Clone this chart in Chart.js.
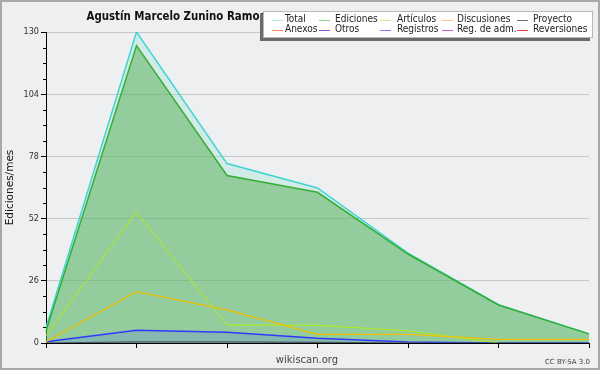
<!DOCTYPE html>
<html><head><meta charset="utf-8">
<script src="https://cdn.jsdelivr.net/npm/chart.js@4/dist/chart.umd.min.js"></script>
<style>
html,body{margin:0;padding:0;background:#fff;}
#wrap{position:relative;width:600px;height:370px;}
canvas{display:block;}
</style></head>
<body><div id="wrap"><canvas id="c" width="600" height="370"></canvas></div>
<script>
const categories = ['1','2','3','4','5','6','7'];
const total       = [6.5, 130, 75, 64.8, 37.6, 16, 3.8];
const ediciones   = [5, 124.3, 70, 63, 37.2, 15.9, 3.8];
const articulos   = [3, 54.8, 7.5, 7.4, 5.1, 0, null];
const discusiones = [0.5, 21.5, 13.8, 3.6, 3.6, 1.5, 1.5];
const proyecto    = [0, 0.5, 0.5, 0.3, 0, 0, 0];
const registros   = [0.5, 5.3, 4.5, 2, 0.4, 0, 0];
const anexos      = [null, null, null, null, null, null, null];
const otros       = [null, null, null, null, null, null, null];
const regAdm      = [null, null, null, null, null, null, null];
const reversiones = [null, null, null, null, null, null, null];
const yTicks = [0, 26, 52, 78, 104, 130];
const yMinorStep = 6.5;

const BG = '#eeeff0';
const FONT = '"DejaVu Sans Condensed","DejaVu Sans",sans-serif';

const series = [
  {label:'Total', data:total, line:'#3fd6d2', fill:'rgba(90,215,195,0.18)', legend:'#a6e8e4', order:10, width:1.5},
  {label:'Ediciones', data:ediciones, line:'#35ad35', fill:'rgba(84,176,84,0.5)', legend:'#8ccf8c', order:9, width:1.5},
  {label:'Artículos', data:articulos, line:'#b0ee10', fill:false, legend:'#d0ee70', order:5, width:1},
  {label:'Discusiones', data:discusiones, line:'#f0c000', fill:false, legend:'#ffd070', order:4, width:1.3},
  {label:'Proyecto', data:proyecto, line:'#4a5560', fill:false, legend:'#707070', order:3, width:1.2},
  {label:'Anexos', data:anexos, line:'#ff8040', fill:false, legend:'#ff8a50', order:2, width:1},
  {label:'Otros', data:otros, line:'#8040e0', fill:false, legend:'#9050e0', order:2, width:1},
  {label:'Registros', data:registros, line:'#3038ff', fill:'rgba(70,90,255,0.18)', legend:'#7878ff', order:8, width:1.5},
  {label:'Reg. de adm.', data:regAdm, line:'#e040e0', fill:false, legend:'#e050e0', order:2, width:1},
  {label:'Reversiones', data:reversiones, line:'#f03030', fill:false, legend:'#f04040', order:2, width:1}
];

const datasets = series.map(s => ({
  label: s.label, data: s.data, borderColor: s.line, backgroundColor: s.fill || 'transparent',
  fill: s.fill ? 'origin' : false, order: s.order, borderWidth: s.width,
  pointRadius: 0, tension: 0, spanGaps: false
}));

const decor = {
  id: 'decor',
  beforeDraw(chart) {
    const ctx = chart.ctx;
    ctx.save();
    ctx.fillStyle = BG;
    ctx.fillRect(0, 0, 600, 370);
    ctx.strokeStyle = '#a8a8a8';
    ctx.lineWidth = 2;
    ctx.strokeRect(1, 1, 598, 368);
    ctx.restore();
  },
  afterDraw(chart) {
    const ctx = chart.ctx;
    const ys = chart.scales.y;
    const ca = chart.chartArea;
    ctx.save();
    // minor ticks
    ctx.strokeStyle = '#000';
    ctx.lineWidth = 1;
    for (let v = 0; v <= ys.max + 1e-6; v += yMinorStep) {
      if (yTicks.includes(Math.round(v*10)/10)) continue;
      const py = Math.round(ys.getPixelForValue(v)) + 0.5;
      ctx.beginPath(); ctx.moveTo(ca.left - 3, py); ctx.lineTo(ca.left, py); ctx.stroke();
    }
    // title
    ctx.save();
    ctx.fillStyle = '#111';
    ctx.font = 'bold 12.5px ' + FONT;
    ctx.textAlign = 'center'; ctx.textBaseline = 'middle';
    ctx.translate(176, 17);
    ctx.scale(0.91, 1);
    ctx.fillText('Agustín Marcelo Zunino Ramos', 0, 0);
    ctx.restore();
    // legend box
    const lx = 263, ly = 11, lw = 330, lh = 27;
    ctx.fillStyle = '#6a6a6a';
    ctx.fillRect(lx - 3, ly + 3, lw, lh);
    ctx.fillStyle = '#ffffff';
    ctx.fillRect(lx, ly, lw, lh);
    ctx.strokeStyle = '#b8b8b8';
    ctx.lineWidth = 1;
    ctx.strokeRect(lx + 0.5, ly + 0.5, lw - 1, lh - 1);
    const colX = [272, 319, 380, 442, 517];
    const textX = [285, 335, 397, 457, 533];
    const rowY = [19.5, 29.5];
    ctx.font = '10px ' + FONT;
    ctx.textAlign = 'left'; ctx.textBaseline = 'middle';
    series.forEach((s, i) => {
      const col = i % 5, row = Math.floor(i / 5);
      ctx.strokeStyle = s.legend;
      ctx.lineWidth = 1;
      ctx.beginPath();
      ctx.moveTo(colX[col], Math.round(rowY[row]) + 0.5);
      ctx.lineTo(colX[col] + 11, Math.round(rowY[row]) + 0.5);
      ctx.stroke();
      ctx.fillStyle = '#222';
      ctx.fillText(s.label, textX[col], rowY[row]);
    });
    // footer texts
    ctx.fillStyle = '#444';
    ctx.font = '10px "DejaVu Sans",sans-serif';
    ctx.textAlign = 'center';
    ctx.fillText('wikiscan.org', 307, 360);
    ctx.font = '7px "DejaVu Sans",sans-serif';
    ctx.textAlign = 'right';
    ctx.fillText('CC BY-SA 3.0', 590, 362);
    ctx.restore();
  }
};

new Chart(document.getElementById('c'), {
  type: 'line',
  data: { labels: categories, datasets },
  options: {
    responsive: false, animation: false,
    devicePixelRatio: 1,
    layout: { padding: { left: 0, top: 32, right: 11, bottom: 0 } },
    plugins: { legend: { display: false }, title: { display: false }, tooltip: { enabled: false } },
    scales: {
      x: {
        type: 'category', offset: false,
        grid: { drawOnChartArea: false, drawTicks: true, tickLength: 5, tickColor: '#000', color: '#000' },
        border: { display: true, color: '#000', width: 1 },
        ticks: { display: false },
        afterFit(s) { s.height = 27; }
      },
      y: {
        min: 0, max: 130,
        afterBuildTicks(s) { s.ticks = yTicks.map(v => ({ value: v })); },
        grid: { color: '#c8c8c8', tickColor: '#000', tickLength: 5, drawTicks: true },
        border: { display: true, color: '#000', width: 1 },
        ticks: { color: '#333', font: { family: FONT, size: 9 }, padding: 2 },
        title: { display: true, text: 'Ediciones/mes', color: '#111', font: { family: '"DejaVu Sans",sans-serif', size: 10.5 }, padding: { top: 4, bottom: 0 } },
        afterFit(s) { s.width = 46; }
      }
    }
  },
  plugins: [decor]
});
</script></body></html>
